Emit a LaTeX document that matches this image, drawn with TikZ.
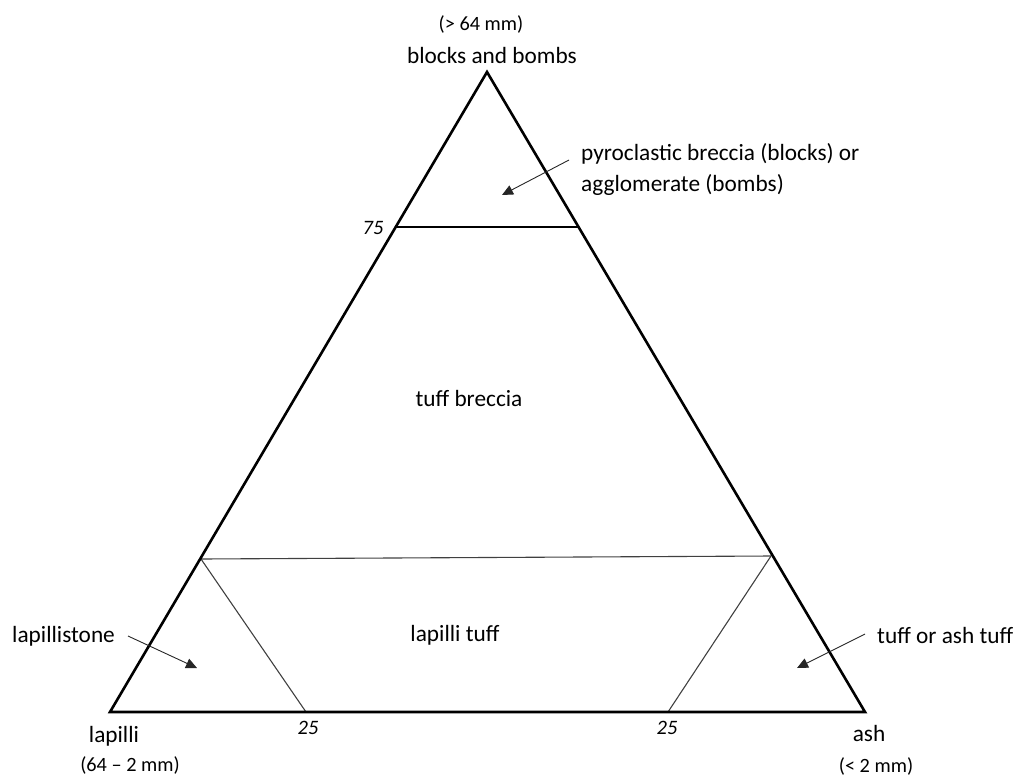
\documentclass[tikz,border=0pt]{standalone}
\usepackage{fontspec}
\setmainfont{Carlito}
\usetikzlibrary{arrows.meta}
\begin{document}
\begin{tikzpicture}[x=1pt,y=-1pt,
  lbl/.style={font=\fontsize{23.3}{28}\selectfont, inner sep=0pt, anchor=center},
  sml/.style={font=\fontsize{20.3}{24}\selectfont, inner sep=0pt, anchor=center},
  num/.style={font=\fontsize{20.5}{24}\selectfont\itshape, inner sep=0pt, anchor=center},
  tri/.style={line width=2.6pt, line join=miter},
  thin/.style={line width=1.1pt, black!75},
  ptr/.style={line width=0.9pt, black!85, -{Triangle[length=11pt,width=10pt]}}]
\useasboundingbox (0,0) rectangle (1016,776);
\coordinate (T) at (487,72);
\coordinate (L) at (110,712);
\coordinate (R) at (865,712);
\coordinate (a1) at (397,227);
\coordinate (a2) at (578,227);
\coordinate (b1) at (201,559);
\coordinate (b2) at (771,556);
\coordinate (c1) at (306,712);
\coordinate (c2) at (668,712);
\draw[thin] (b1) -- (c1);
\draw[thin] (b2) -- (c2);
\draw[thin] (b1) -- (b2);
\draw[line width=1.3pt] (a1) -- (a2);
\draw[tri] (L) -- (T) -- (R) -- cycle;
% labels
\node[sml] (gt) at (481,24) {(> 64 mm)};
\node[lbl] (bb) at (492,55) {blocks and bombs};
\node[lbl, anchor=west] (pb1) at (581,154) {pyroclastic breccia (blocks) or};
\node[lbl, anchor=west] (pb2) at (581,185) {agglomerate (bombs)};
\node[num] (n75) at (373,228) {75};
\node[lbl] (tb) at (469,398) {tuff breccia};
\node[lbl] (lt) at (455,635) {lapilli tuff};
\node[lbl, anchor=west] (ls) at (12,636) {lapillistone};
\node[lbl, anchor=west] (ta) at (877,635) {tuff or ash tuff};
\node[lbl] (lp) at (114,736) {lapilli};
\node[sml] (lpm) at (130,765) {(64 -- 2 mm)};
\node[num] (n25a) at (308,728) {25};
\node[num] (n25b) at (667,728) {25};
\node[lbl] (ash) at (869,733) {ash};
\node[sml] (ashm) at (876,766) {(< 2 mm)};
% pointers
\coordinate (p1s) at (569,160);
\coordinate (p1e) at (502,195);
\coordinate (p2s) at (128,636);
\coordinate (p2e) at (197,668);
\coordinate (p3s) at (865,634);
\coordinate (p3e) at (797,668);
\draw[ptr] (p1s) -- (p1e);
\draw[ptr] (p2s) -- (p2e);
\draw[ptr] (p3s) -- (p3e);
\end{tikzpicture}
\end{document}
